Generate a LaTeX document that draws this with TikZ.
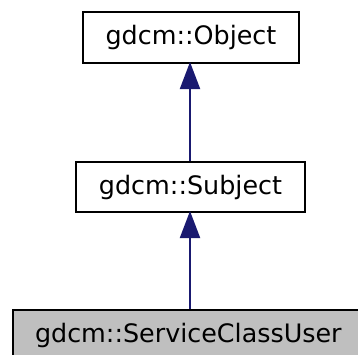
\documentclass[tikz,border=0pt]{standalone}
\usepackage{fontspec}
\setmainfont{DejaVu Sans}
\usetikzlibrary{arrows.meta}
\begin{document}
\begin{tikzpicture}[x=1pt,y=-1pt,
  cls/.style={draw=black,line width=2pt,inner sep=0pt,font=\fontsize{25.4}{30}\selectfont},
  inh/.style={draw={rgb,255:red,25;green,25;blue,112},line width=2pt,
    -{Triangle[width=20pt,length=27pt,fill={rgb,255:red,25;green,25;blue,112}]}}]
\useasboundingbox (0,0) rectangle (358,354);
\begin{scope}
\clip (0,0) rectangle (358,354);
\node[cls,minimum width=216pt,minimum height=51pt,anchor=north west] (obj) at (82,11) {gdcm::Object};
\node[cls,minimum width=229pt,minimum height=50pt,anchor=north west] (sub) at (75,161) {gdcm::Subject};
\node[cls,fill={rgb,255:red,191;green,191;blue,191},minimum width=360pt,minimum height=50pt,anchor=north west,text width=346pt,align=left,inner xsep=0pt] (scu) at (12,309) {\hspace*{15pt}gdcm::ServiceClassUser};
\end{scope}
\coordinate (scutop) at (190,309);
\coordinate (subbot) at (190,211);
\coordinate (subtop) at (190,161);
\coordinate (objbot) at (190,62);
\draw[inh] (scutop) -- (subbot);
\draw[inh] (subtop) -- (objbot);
\end{tikzpicture}
\end{document}
